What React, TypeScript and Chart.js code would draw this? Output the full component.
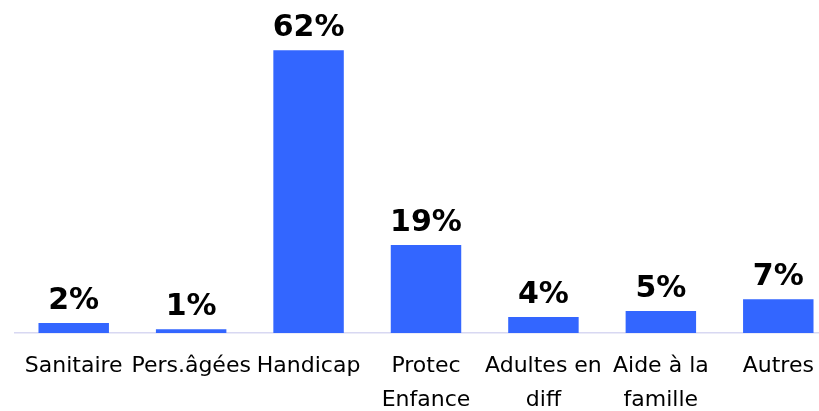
import React, { useEffect, useRef } from "react";
import { Chart, registerables } from "chart.js";

Chart.register(...registerables);

const categories: (string | string[])[] = [
  "Sanitaire",
  "Pers.âgées",
  "Handicap",
  ["Protec", "Enfance"],
  ["Adultes en", "diff"],
  ["Aide à la", "famille"],
  "Autres",
];
const shares = [2.2, 0.8, 62, 19.3, 3.5, 4.8, 7.4];
const shareLabels = ["2%", "1%", "62%", "19%", "4%", "5%", "7%"];

const BAR_COLOR = "#3366FF";
const AXIS_COLOR = "#D8D8F2";
const FONT_FAMILY = "Tahoma, 'DejaVu Sans', Verdana, sans-serif";

const valueLabelPlugin = {
  id: "valueLabels",
  afterDatasetsDraw(chart: any) {
    const ctx = chart.ctx;
    const meta = chart.getDatasetMeta(0);
    ctx.save();
    ctx.font = `bold 30px ${FONT_FAMILY}`;
    ctx.fillStyle = "#000000";
    ctx.textAlign = "center";
    ctx.textBaseline = "alphabetic";
    meta.data.forEach((bar: any, i: number) => {
      ctx.fillText(shareLabels[i], bar.x, bar.y - 14);
    });
    ctx.restore();
  },
};

export default function App() {
  const canvasRef = useRef<HTMLCanvasElement | null>(null);

  useEffect(() => {
    document.body.style.margin = "0";
    document.body.style.overflow = "hidden";
    const canvas = canvasRef.current;
    if (!canvas) return;
    const chart = new Chart(canvas, {
      type: "bar",
      data: {
        labels: categories as any,
        datasets: [
          {
            data: shares,
            backgroundColor: BAR_COLOR,
            borderWidth: 0,
            barPercentage: 0.6,
            categoryPercentage: 1,
          },
        ],
      },
      options: {
        animation: false,
        responsive: true,
        maintainAspectRatio: false,
        layout: { padding: { top: 17, left: 15, right: 0, bottom: 0 } },
        plugins: {
          legend: { display: false },
          tooltip: { enabled: false },
        },
        scales: {
          x: {
            offset: true,
            grid: { display: false, drawTicks: false },
            border: { display: true, color: AXIS_COLOR, width: 1.5 },
            ticks: {
              autoSkip: false,
              maxRotation: 0,
              minRotation: 0,
              padding: 16,
              color: "#000000",
              font: { family: FONT_FAMILY, size: 22, lineHeight: "34px" as any },
            },
          },
          y: {
            display: false,
            min: 0,
            max: 69.3,
          },
        },
      },
      plugins: [valueLabelPlugin],
    });
    return () => chart.destroy();
  }, []);

  return (
    <div style={{ width: 819, height: 411, overflow: "hidden", position: "relative" }}>
      <div style={{ position: "absolute", left: 0, top: 0, width: 837, height: 433 }}>
        <canvas ref={canvasRef} />
      </div>
    </div>
  );
}
